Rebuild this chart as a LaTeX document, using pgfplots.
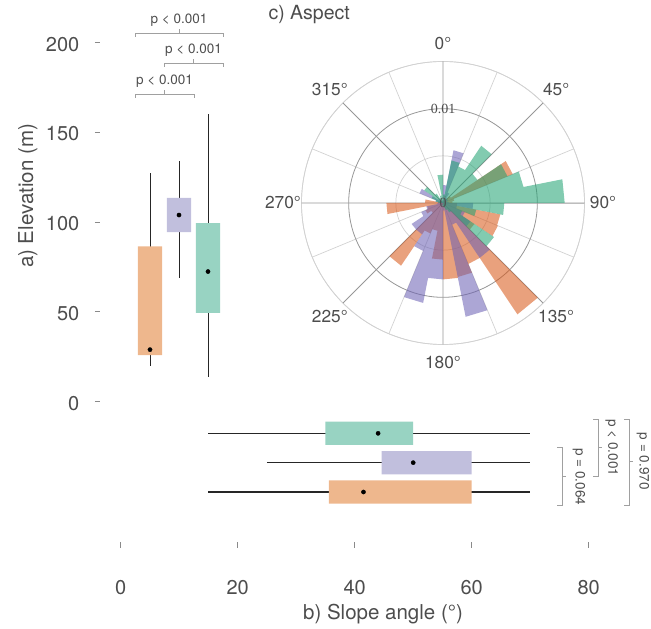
\documentclass[border=0pt]{standalone}
\usepackage{fontspec}
\setmainfont{TeX Gyre Heros}
\newfontfamily\seriffont{Liberation Serif}
\usepackage{pgfplots}
\usepackage{pgfplotstable}
\pgfplotsset{compat=1.18}
\usepgfplotslibrary{polar}

\definecolor{dOrange}{HTML}{D95F02}
\definecolor{dPurple}{HTML}{7570B3}
\definecolor{dGreen}{HTML}{1B9E77}
\definecolor{rOrange}{RGB}{216,87,23}
\definecolor{rPurple}{RGB}{107,96,180}
\definecolor{rGreen}{RGB}{32,162,114}
\definecolor{txt}{HTML}{4D4D4D}
\definecolor{tickc}{HTML}{8A8A8A}
\definecolor{brk}{HTML}{A0A0A0}
\definecolor{whisk}{HTML}{262626}
\definecolor{gridlight}{HTML}{D2D2D2}
\definecolor{griddark}{HTML}{979797}

\newcommand\tickfont{\fontsize{20}{24}\selectfont}
\newcommand\titlefont{\fontsize{20.5}{24}\selectfont}
\newcommand\pfont{\fontsize{13.5}{16}\selectfont}
\newcommand\angfont{\fontsize{17.3}{20}\selectfont}

% Aspect rose: compass angle a (deg), density r  (two rows per 11.25 deg bin)
\pgfplotstableread{
a r
0 0
11.25 0
11.25 0.0008
22.5 0.0008
22.5 0.0006
33.75 0.0006
33.75 0.0005
45 0.0005
45 0.0010
56.25 0.0010
56.25 0.0080
67.5 0.0080
67.5 0.0012
78.75 0.0012
78.75 0.0010
90 0.0010
90 0.0015
101.25 0.0015
101.25 0.0062
112.5 0.0062
112.5 0.0063
123.75 0.0063
123.75 0.0040
135 0.0040
135 0.0142
146.25 0.0142
146.25 0.0070
157.5 0.0070
157.5 0.0080
168.75 0.0080
168.75 0.0081
180 0.0081
180 0.0060
191.25 0.0060
191.25 0.0030
202.5 0.0030
202.5 0.0035
213.75 0.0035
213.75 0.0080
225 0.0080
225 0.0015
236.25 0.0015
236.25 0.0020
247.5 0.0020
247.5 0.0017
258.75 0.0017
258.75 0.0060
270 0.0060
270 0.0019
281.25 0.0019
281.25 0.0005
292.5 0.0005
292.5 0
360 0
}\roseO

\pgfplotstableread{
a r
0 0.0019
11.25 0.0019
11.25 0.0057
22.5 0.0057
22.5 0.0012
33.75 0.0012
33.75 0.0006
45 0.0006
45 0.0006
56.25 0.0006
56.25 0.0006
67.5 0.0006
67.5 0.0004
78.75 0.0004
78.75 0.0006
90 0.0006
90 0.0032
101.25 0.0032
101.25 0.0015
112.5 0.0015
112.5 0.0025
123.75 0.0025
123.75 0.0035
135 0.0035
135 0.0070
146.25 0.0070
146.25 0.0025
157.5 0.0025
157.5 0.0123
168.75 0.0123
168.75 0.0008
180 0.0008
180 0.0081
191.25 0.0081
191.25 0.0108
202.5 0.0108
202.5 0.0055
213.75 0.0055
213.75 0.0040
225 0.0040
225 0.0040
236.25 0.0040
236.25 0.0025
247.5 0.0025
247.5 0.0018
258.75 0.0018
258.75 0.0006
270 0.0006
270 0.0005
281.25 0.0005
281.25 0.0008
292.5 0.0008
292.5 0.0027
303.75 0.0027
303.75 0.0006
315 0.0006
315 0.0003
326.25 0.0003
326.25 0
348.75 0
348.75 0.0003
360 0.0003
}\roseP

\pgfplotstableread{
a r
0 0.0009
11.25 0.0009
11.25 0.0046
22.5 0.0046
22.5 0.0042
33.75 0.0042
33.75 0.0073
45 0.0073
45 0.0044
56.25 0.0044
56.25 0.0074
67.5 0.0074
67.5 0.0087
78.75 0.0087
78.75 0.0129
90 0.0129
90 0.0065
101.25 0.0065
101.25 0.0036
112.5 0.0036
112.5 0.0022
123.75 0.0022
123.75 0.0065
135 0.0065
135 0.0012
146.25 0.0012
146.25 0.0008
157.5 0.0008
157.5 0.0005
168.75 0.0005
168.75 0.0004
180 0.0004
180 0.0003
191.25 0.0003
191.25 0.0002
202.5 0.0002
202.5 0
270 0
270 0.0005
281.25 0.0005
281.25 0.0008
292.5 0.0008
292.5 0.0013
303.75 0.0013
303.75 0.0024
315 0.0024
315 0.0012
326.25 0.0012
326.25 0.0006
337.5 0.0006
337.5 0.0008
348.75 0.0008
348.75 0.0030
360 0.0030
}\roseG

\begin{document}
\begin{tikzpicture}
\path[use as bounding box] (0pt,0pt) rectangle (651pt,629pt);

% ---------------- a) Elevation ----------------
\begin{axis}[
  at={(97.5pt,227.3pt)}, anchor=south west,
  scale only axis, width=132.5pt, height=376.95pt,
  xmin=-0.8103, xmax=3.7586, ymin=0, ymax=210,
  axis lines*=left, axis line style={draw=none},
  xtick=\empty,
  ytick={0,50,100,150,200}, yticklabels={0,50,100,150,200},
  tick align=center, major tick length=5pt,
  ytick style={draw=tickc, line width=0.9pt},
  yticklabel style={font=\tickfont, text=txt, anchor=east, inner sep=0pt, xshift=-15.5pt, yshift=-1.5pt},
  clip=false,
]
\addplot[draw=whisk, line width=0.9pt] coordinates {(1,20) (1,127.5)};
\addplot[draw=whisk, line width=0.9pt] coordinates {(2,69) (2,134)};
\addplot[draw=whisk, line width=0.9pt] coordinates {(3,14) (3,160)};
\addplot[draw=none, fill=dOrange!45!white] coordinates {(0.586,26) (1.414,26) (1.414,86.5) (0.586,86.5) (0.586,26)};
\addplot[draw=none, fill=dPurple!45!white] coordinates {(1.586,94.5) (2.414,94.5) (2.414,113.5) (1.586,113.5) (1.586,94.5)};
\addplot[draw=none, fill=dGreen!45!white] coordinates {(2.586,49.5) (3.414,49.5) (3.414,99.5) (2.586,99.5) (2.586,49.5)};
\addplot[only marks, mark=*, mark size=2.1pt, mark options={fill=black, draw=black}] coordinates {(1,29) (2,104) (3,72.5)};
% significance brackets
\addplot[draw=brk, line width=0.8pt] coordinates {(0.483,203.4) (0.483,205.2) (3.517,205.2) (3.517,203.4)};
\addplot[draw=brk, line width=0.8pt] coordinates {(2,205.2) (2,207.5)};
\addplot[draw=brk, line width=0.8pt] coordinates {(1.483,186.6) (1.483,188.5) (3.517,188.5) (3.517,186.6)};
\addplot[draw=brk, line width=0.8pt] coordinates {(2.5,188.5) (2.5,190.7)};
\addplot[draw=brk, line width=0.8pt] coordinates {(0.483,169.4) (0.483,171.2) (2.517,171.2) (2.517,169.4)};
\addplot[draw=brk, line width=0.8pt] coordinates {(1.5,171.2) (1.5,173.5)};
\node[font=\pfont, text=txt] at (axis cs:2,212.6) {p < 0.001};
\node[font=\pfont, text=txt] at (axis cs:2.5,195.9) {p < 0.001};
\node[font=\pfont, text=txt] at (axis cs:1.5,178.7) {p < 0.001};
\end{axis}

% ---------------- b) Slope angle ----------------
\begin{axis}[
  at={(120.7pt,84pt)}, anchor=south west,
  scale only axis, width=526.5pt, height=129.26pt,
  xmin=0, xmax=90, ymin=-0.807, ymax=3.6,
  axis lines*=left, axis line style={draw=none},
  ytick=\empty,
  xtick={0,20,40,60,80}, xticklabels={0,20,40,60,80},
  tick align=center, major tick length=6pt,
  xtick style={draw=tickc, line width=0.9pt},
  xticklabel style={font=\tickfont, text=txt, anchor=base, inner sep=0pt, yshift=-46.5pt},
  clip=false,
]
\addplot[draw=whisk, line width=1.2pt] coordinates {(15,3) (70,3)};
\addplot[draw=whisk, line width=1.2pt] coordinates {(25,2) (70,2)};
\addplot[draw=whisk, line width=1.2pt] coordinates {(15,1) (70,1)};
\addplot[draw=none, fill=dGreen!45!white] coordinates {(35,2.603) (50,2.603) (50,3.397) (35,3.397) (35,2.603)};
\addplot[draw=none, fill=dPurple!45!white] coordinates {(44.6,1.603) (60,1.603) (60,2.397) (44.6,2.397) (44.6,1.603)};
\addplot[draw=none, fill=dOrange!45!white] coordinates {(35.6,0.603) (60,0.603) (60,1.397) (35.6,1.397) (35.6,0.603)};
\addplot[only marks, mark=*, mark size=2.1pt, mark options={fill=black, draw=black}] coordinates {(44,3) (50,2) (41.5,1)};
% significance brackets
\addplot[draw=brk, line width=0.8pt] coordinates {(74.58,2.510) (75.49,2.510) (75.49,0.557) (74.58,0.557)};
\addplot[draw=brk, line width=0.8pt] coordinates {(75.49,1.522) (76.09,1.522)};
\addplot[draw=brk, line width=0.8pt] coordinates {(80.74,3.489) (81.64,3.489) (81.64,1.522) (80.74,1.522)};
\addplot[draw=brk, line width=0.8pt] coordinates {(81.64,2.510) (82.24,2.510)};
\addplot[draw=brk, line width=0.8pt] coordinates {(86.03,3.489) (86.94,3.489) (86.94,0.557) (86.03,0.557)};
\addplot[draw=brk, line width=0.8pt] coordinates {(86.94,2.033) (87.54,2.033)};
\node[font=\pfont, text=txt, rotate=-90] at (axis cs:78.34,1.522) {p = 0.064};
\node[font=\pfont, text=txt, rotate=-90] at (axis cs:83.93,2.510) {p < 0.001};
\node[font=\pfont, text=txt, rotate=-90] at (axis cs:89.28,2.05) {p = 0.970};
\end{axis}

% ---------------- c) Aspect ----------------
\begin{polaraxis}[
  at={(443pt,426pt)}, anchor=center,
  scale only axis, width=283pt, height=283pt,
  xmin=0, xmax=360, ymin=0, ymax=0.015,
  xtick={22.5,67.5,...,337.5}, xticklabels={},
  extra x ticks={0,45,...,315}, extra x tick labels={},
  ytick={0.005,0.015}, yticklabels={},
  extra y ticks={0.01}, extra y tick labels={},
  scaled y ticks=false,
  grid=major,
  major grid style={draw=gridlight, line width=0.7pt},
  extra x tick style={grid=major, major grid style={draw=griddark, line width=0.8pt}},
  extra y tick style={grid=major, major grid style={draw=griddark, line width=0.8pt}},
  major tick length=0pt,
  tick style={draw=none},
  axis line style={draw=gridlight, line width=0.7pt},
  clip=false,
]
\addplot[draw=none, fill=rOrange, fill opacity=0.56] table[x expr=90-\thisrow{a}, y=r] {\roseO};
\addplot[draw=none, fill=rPurple, fill opacity=0.56] table[x expr=90-\thisrow{a}, y=r] {\roseP};
\addplot[draw=none, fill=rGreen, fill opacity=0.56] table[x expr=90-\thisrow{a}, y=r] {\roseG};
\node[font=\angfont, text=txt] at (axis cs:90,0.01696) {0°};
\node[font=\angfont, text=txt] at (axis cs:45,0.01696) {45°};
\node[font=\angfont, text=txt] at (axis cs:0,0.01696) {90°};
\node[font=\angfont, text=txt] at (axis cs:315,0.01696) {135°};
\node[font=\angfont, text=txt] at (axis cs:270,0.01696) {180°};
\node[font=\angfont, text=txt] at (axis cs:225,0.01696) {225°};
\node[font=\angfont, text=txt] at (axis cs:180,0.01696) {270°};
\node[font=\angfont, text=txt] at (axis cs:135,0.01696) {315°};
\node[font=\seriffont\fontsize{14}{16}\selectfont, text=txt, inner sep=0pt] at (axis cs:90,0.01) {0.01};
\node[font=\seriffont\fontsize{14}{16}\selectfont, text=txt, inner sep=0pt] at (axis cs:0,0) {0};
\end{polaraxis}

% titles
\node[rotate=90, anchor=base, font=\titlefont, text=txt] at (33pt,433pt) {a) Elevation (m)};
\node[anchor=base, font=\titlefont, text=txt] at (383pt,9pt) {b) Slope angle (°)};
\node[anchor=base west, font=\fontsize{19.5}{23}\selectfont, text=txt] at (265pt,609pt) {c) Aspect};
\end{tikzpicture}
\end{document}
